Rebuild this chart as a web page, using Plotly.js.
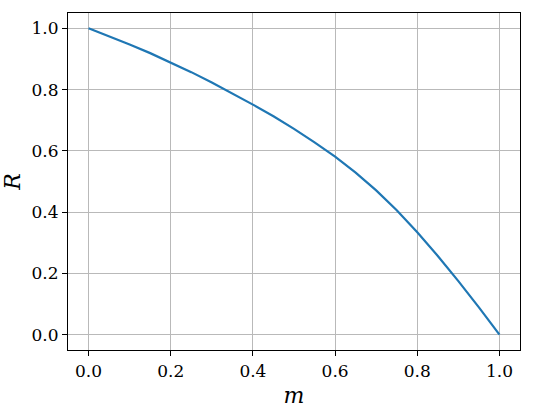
<!DOCTYPE html>
<html>
<head>
<meta charset="utf-8">
<script src="https://cdn.plot.ly/plotly-3.0.1.min.js"></script>
<style>html,body{margin:0;padding:0;background:#fff;}#chart{width:534px;height:415px;}</style>
</head>
<body>
<div id="chart"></div>
<script>
var mValues = [0.0, 0.05, 0.1, 0.15, 0.2, 0.25, 0.3, 0.35, 0.4, 0.45, 0.5, 0.55, 0.6, 0.65, 0.7, 0.75, 0.8, 0.85, 0.9, 0.95, 1.0];
var rValues = [1.000, 0.974, 0.947, 0.919, 0.889, 0.857, 0.823, 0.788, 0.751, 0.713, 0.672, 0.628, 0.581, 0.529, 0.471, 0.406, 0.334, 0.257, 0.175, 0.089, 0.000];
var tickVals = [0.0, 0.2, 0.4, 0.6, 0.8, 1.0];
var tickText = ["0.0", "0.2", "0.4", "0.6", "0.8", "1.0"];

var fontFam = "DejaVu Serif";

var trace = {
  x: mValues, y: rValues, type: 'scatter', mode: 'lines',
  line: {color: '#1f77b4', width: 2.2},
  hoverinfo: 'skip'
};

var axisCommon = {
  showline: true, mirror: true, linecolor: '#000', linewidth: 1.1,
  showgrid: true, gridcolor: '#b9b9b9', gridwidth: 1.1,
  zeroline: false,
  ticks: 'outside', ticklen: 5, tickwidth: 1.1, tickcolor: '#000',
  tickvals: tickVals, ticktext: tickText,
  tickfont: {family: fontFam, size: 17, color: '#000'},
  range: [-0.05, 1.05]
};

var layout = {
  width: 534, height: 415,
  margin: {l: 68, r: 14, t: 13, b: 65},
  paper_bgcolor: '#fff', plot_bgcolor: '#fff',
  showlegend: false,
  font: {family: fontFam},
  xaxis: Object.assign({}, axisCommon, {
    title: {text: '<i>m</i>', font: {family: fontFam, size: 22, color: '#000'}, standoff: 8}
  }),
  yaxis: Object.assign({}, axisCommon, {
    title: {text: '<i>R</i>', font: {family: fontFam, size: 22, color: '#000'}, standoff: 5}
  })
};

Plotly.newPlot('chart', [trace], layout, {staticPlot: true, displayModeBar: false});
</script>
</body>
</html>
